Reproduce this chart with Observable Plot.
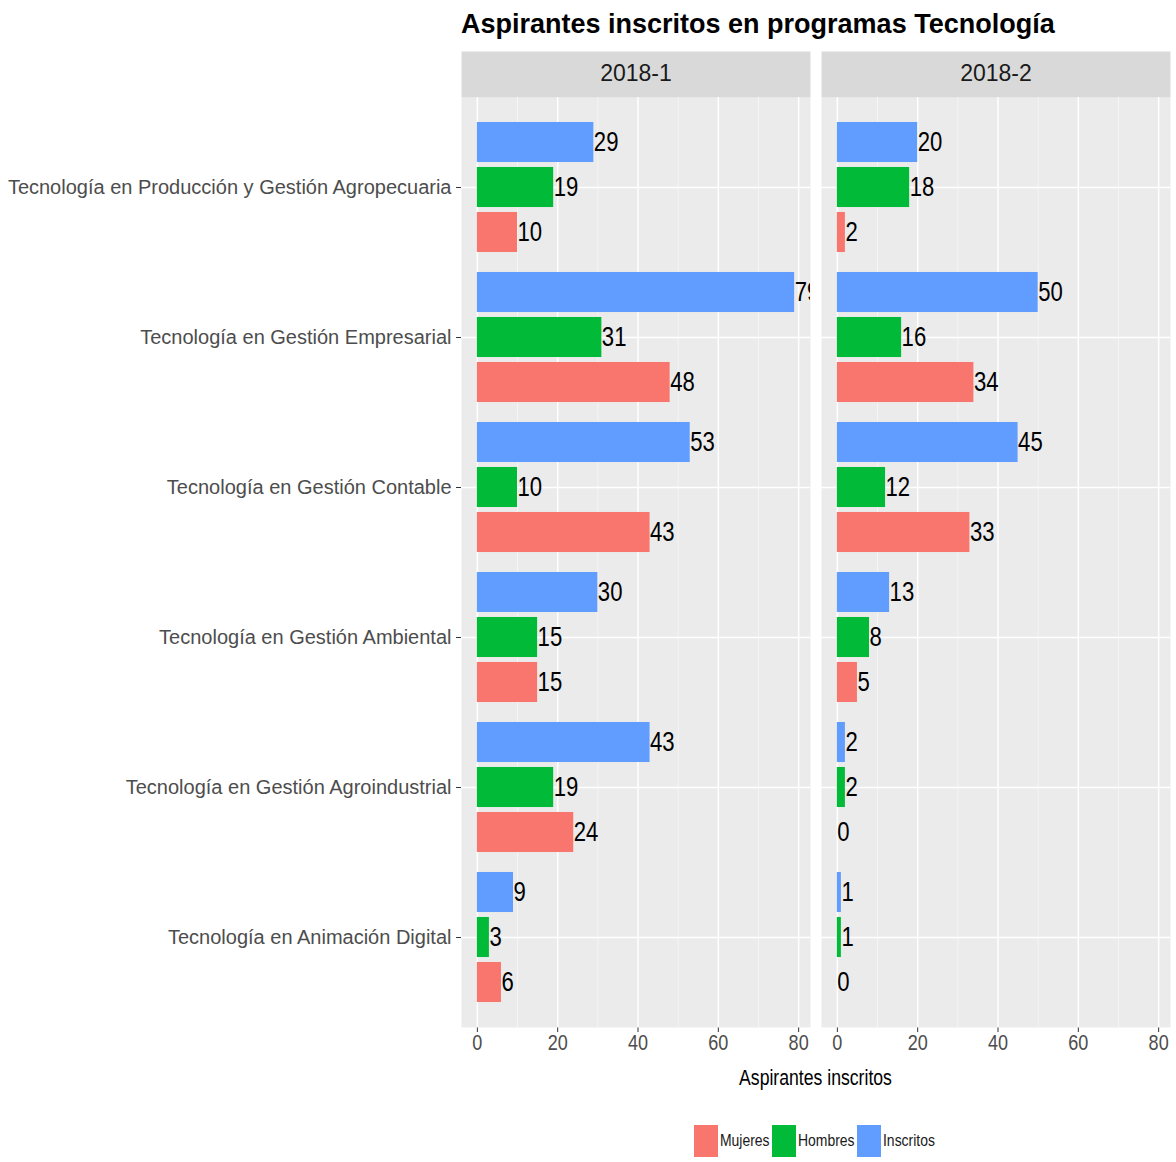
<!DOCTYPE html>
<html>
<head>
<meta charset="utf-8">
<script src="https://cdn.jsdelivr.net/npm/d3@7"></script>
<script src="https://cdn.jsdelivr.net/npm/@observablehq/plot@0.6"></script>
<style>
  body { margin: 0; background: #fff; }
  #wrap { position: relative; width: 1176px; height: 1162px; overflow: hidden; background: #fff; }
  #title { position: absolute; left: 461px; top: 11px; font: bold 27px "Liberation Sans", Arial, sans-serif; line-height: 1; color: #000; white-space: nowrap; }
  #chart { position: absolute; left: 0; top: 50px; }
  #xtitle { position: absolute; left: 461px; width: 709px; top: 1068px; text-align: center; font: 21.5px "Liberation Sans", Arial, sans-serif; line-height: 1; color: #000; transform: scaleX(0.82); transform-origin: 354.5px 0; }
  #legend { position: absolute; left: 461px; width: 709px; top: 1125px; display: flex; justify-content: center; align-items: center; font: 17px "Liberation Sans", Arial, sans-serif; color: #1a1a1a; }
  #legend .sw { width: 24px; height: 32px; display: inline-block; flex: none; }
  #legend .lb { display: inline-block; transform: scaleX(0.82); transform-origin: 0 50%; white-space: nowrap; flex: none; }
  #chart [aria-label^="y-axis"] text { font-family: "Liberation Sans", Arial, sans-serif !important; font-size: 20px !important; fill: #4d4d4d !important; }
</style>
</head>
<body>
<div id="wrap">
  <div id="title">Aspirantes inscritos en programas Tecnología</div>
  <div id="chart"></div>
  <div id="xtitle">Aspirantes inscritos</div>
  <div id="legend"></div>
</div>
<script>
// ---- data ----
const programs = [
  "Tecnología en Producción y Gestión Agropecuaria",
  "Tecnología en Gestión Empresarial",
  "Tecnología en Gestión Contable",
  "Tecnología en Gestión Ambiental",
  "Tecnología en Gestión Agroindustrial",
  "Tecnología en Animación Digital"
];
const periods = ["2018-1", "2018-2"];
const series = ["Mujeres", "Hombres", "Inscritos"];
const seriesColors = ["#F8766D", "#00BA38", "#619CFF"];

const mujeres_2018_1   = [10, 48, 43, 15, 24, 6];
const hombres_2018_1   = [19, 31, 10, 15, 19, 3];
const inscritos_2018_1 = [29, 79, 53, 30, 43, 9];
const mujeres_2018_2   = [2, 34, 33, 5, 0, 0];
const hombres_2018_2   = [18, 16, 12, 8, 2, 1];
const inscritos_2018_2 = [20, 50, 45, 13, 2, 1];

const xTicks = [0, 20, 40, 60, 80];
const xMinorTicks = [10, 30, 50, 70];

const valuesBy = {
  "2018-1": {Mujeres: mujeres_2018_1, Hombres: hombres_2018_1, Inscritos: inscritos_2018_1},
  "2018-2": {Mujeres: mujeres_2018_2, Hombres: hombres_2018_2, Inscritos: inscritos_2018_2}
};

const data = [];
for (const period of periods)
  for (const s of series)
    programs.forEach((program, i) => data.push({period, series: s, program, value: valuesBy[period][s][i]}));

// ---- layout ----
const panelH = 930;
const marginTop = 47, marginBottom = 40;
const band = panelH / (programs.length + 0.2);
const slot = band * 0.9 / series.length;
const barH = slot * 0.89;
const sans = '"Liberation Sans", Arial, sans-serif';
const condense = 0.82;
const xmax = d3.max(data, d => d.value);
const expand = xmax * 0.05;

const marks = [
  Plot.frame({fill: "#EBEBEB", stroke: "none"}),
  Plot.frame({fill: "#D9D9D9", stroke: "none", insetTop: -46, insetBottom: panelH}),
  Plot.ruleX(xMinorTicks, {x: d => d, stroke: "#F7F7F7", strokeWidth: 0.8}),
  Plot.ruleX(xTicks, {x: d => d, stroke: "#FFFFFF", strokeWidth: 1.5}),
  Plot.ruleY(programs, {y: d => d, stroke: "#FFFFFF", strokeWidth: 1.5})
];

series.forEach((s, si) => {
  const k = series.length - 1 - si; // position from top within group
  const top = band * 0.05 + k * slot + (slot - barH) / 2;
  marks.push(Plot.barX(data, {
    filter: d => d.series === s,
    x: "value", y: "program",
    fill: seriesColors[si],
    insetTop: top, insetBottom: band - top - barH
  }));
});
series.forEach((s, si) => {
  const k = series.length - 1 - si;
  const center = band * 0.05 + k * slot + slot / 2 - band / 2;
  marks.push(Plot.text(data, {
    filter: d => d.series === s,
    x: "value", y: "program",
    text: d => String(d.value),
    textAnchor: "start", dx: 0, dy: center,
    fill: "#000", fontSize: 27, fontFamily: sans,
    clip: true
  }));
});
// facet strip labels
marks.push(Plot.text(data, {
  filter: d => d.program === programs[0] && d.series === series[0],
  text: "period", frameAnchor: "top", lineAnchor: "middle", dy: -24,
  fill: "#1A1A1A", fontSize: 23, fontFamily: sans
}));
// x tick labels (repeated under each facet)
marks.push(Plot.text(xTicks, {
  x: d => d, text: d => String(d), frameAnchor: "bottom", lineAnchor: "top", dy: 7,
  fill: "#4D4D4D", fontSize: 22, fontFamily: sans
}));

const chart = Plot.plot({
  width: 1176,
  height: marginTop + panelH + marginBottom,
  marginTop, marginBottom,
  marginLeft: 461, marginRight: 6,
  style: {background: "transparent", color: "#333333", fontFamily: sans},
  facet: {data, x: "period"},
  fx: {domain: periods, paddingInner: 11 / 360, paddingOuter: 0, axis: null, label: null},
  x: {domain: [-expand, xmax + expand], ticks: xTicks, tickFormat: () => "", tickSize: 5, tickPadding: 3, label: null},
  y: {domain: programs, paddingInner: 0, paddingOuter: 0.1, tickSize: 5, tickPadding: 5, label: null},
  marks
});
document.getElementById("chart").appendChild(chart);

// narrow the condensed-looking texts horizontally, keeping their anchor points
function squeeze(el, s) {
  const t = el.getAttribute("transform") || "";
  el.setAttribute("transform", `${t} scale(${s},1)`);
}
d3.select(chart).selectAll('g[font-size="27"] text, g[font-size="22"] text')
  .each(function() { squeeze(this, condense); });

// legend
const legend = document.getElementById("legend");
series.forEach((s, i) => {
  const sw = document.createElement("span");
  sw.className = "sw"; sw.style.background = seriesColors[i];
  const lb = document.createElement("span");
  lb.className = "lb"; lb.textContent = s;
  legend.appendChild(sw); legend.appendChild(lb);
  const w = lb.getBoundingClientRect().width / condense;
  lb.style.marginLeft = "2px";
  lb.style.marginRight = (2 - w * (1 - condense)) + "px";
});
</script>
</body>
</html>
